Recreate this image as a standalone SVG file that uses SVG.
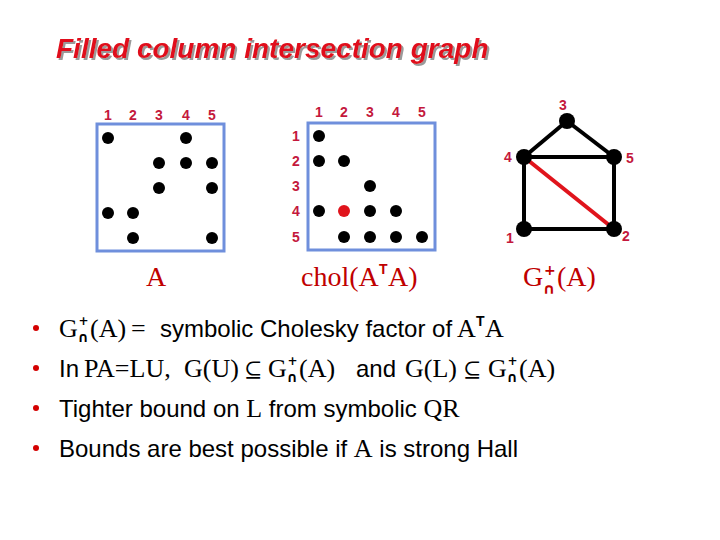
<svg xmlns="http://www.w3.org/2000/svg" width="720" height="540" viewBox="0 0 720 540">
<defs>
<filter id="shadow" x="-5%" y="-20%" width="110%" height="150%">
<feDropShadow dx="2" dy="2" stdDeviation="0.6" flood-color="#9a9a9a" flood-opacity="1"/>
</filter>
</defs>
<style>
.title{font-family:"Liberation Sans",Arial,sans-serif;font-weight:bold;font-style:italic;font-size:28px;fill:#e0101a}
.num{font-family:"Liberation Sans",Arial,sans-serif;font-weight:bold;font-size:14px;fill:#c4183c}
.box{fill:none;stroke:#6f8fdc;stroke-width:3}
.dot{fill:#000}
.lab{font-family:"Liberation Serif","Times New Roman",serif;font-size:28px;fill:#c00000}
.sup{font-family:"Liberation Sans",Arial,sans-serif;font-weight:bold;font-size:14px}
.pc{font-family:"DejaVu Sans","Liberation Sans",sans-serif;font-weight:bold}
.sans{font-family:"Liberation Sans",Arial,sans-serif;font-size:24px;fill:#000}
.ser{font-family:"Liberation Serif","Times New Roman",serif;font-size:26px;fill:#000}
.sym{font-family:"DejaVu Serif","Liberation Serif",serif;font-size:22px;fill:#000}
.edge{stroke:#000;stroke-width:4;fill:none}
.red{stroke:#e0141c;stroke-width:4;fill:none}
.bul{fill:#d40000}
</style>

<g id="title">
<text class="title" x="56" y="58" filter="url(#shadow)">Filled column intersection graph</text>
</g>

<g id="matrixA">
<rect class="box" x="97" y="124" width="127" height="127"/>
<g class="num" text-anchor="middle">
<text x="108" y="120">1</text><text x="133" y="120">2</text><text x="159" y="120">3</text><text x="186" y="120">4</text><text x="212" y="120">5</text>
</g>
<g class="dot">
<circle cx="108" cy="138" r="6"/><circle cx="186" cy="138" r="6"/>
<circle cx="159" cy="163" r="6"/><circle cx="186" cy="163" r="6"/><circle cx="212" cy="163" r="6"/>
<circle cx="159" cy="188" r="6"/><circle cx="212" cy="188" r="6"/>
<circle cx="108" cy="213" r="6"/><circle cx="133" cy="213" r="6"/>
<circle cx="133" cy="238" r="6"/><circle cx="212" cy="238" r="6"/>
</g>
<text class="lab" x="146" y="286">A</text>
</g>

<g id="matrixChol">
<rect class="box" x="308" y="123" width="127" height="127"/>
<g class="num" text-anchor="middle">
<text x="319" y="117">1</text><text x="344" y="117">2</text><text x="370" y="117">3</text><text x="396" y="117">4</text><text x="422" y="117">5</text>
<text x="296" y="141">1</text><text x="296" y="166">2</text><text x="296" y="191">3</text><text x="296" y="216">4</text><text x="296" y="242">5</text>
</g>
<g class="dot">
<circle cx="319" cy="136" r="6"/>
<circle cx="319" cy="161" r="6"/><circle cx="344" cy="161" r="6"/>
<circle cx="370" cy="186" r="6"/>
<circle cx="319" cy="211" r="6"/><circle cx="344" cy="211" r="6" fill="#e0141c"/><circle cx="370" cy="211" r="6"/><circle cx="396" cy="211" r="6"/>
<circle cx="344" cy="237" r="6"/><circle cx="370" cy="237" r="6"/><circle cx="396" cy="237" r="6"/><circle cx="422" cy="237" r="6"/>
</g>
<text class="lab" x="301" y="286">chol(A</text>
<text class="sup" x="379" y="274" fill="#c00000">T</text>
<text class="lab" x="388" y="286">A)</text>
</g>

<g id="connectors">
<line class="edge" x1="524" y1="157" x2="567" y2="121"/>
<line class="edge" x1="567" y1="121" x2="614" y2="157"/>
<line class="edge" x1="524" y1="157" x2="614" y2="157"/>
<line class="edge" x1="524" y1="157" x2="524" y2="229"/>
<line class="edge" x1="614" y1="157" x2="614" y2="229"/>
<line class="edge" x1="524" y1="229" x2="614" y2="229"/>
<line class="red" x1="524" y1="157" x2="614" y2="229"/>
</g>

<g id="node1"><circle cx="524" cy="229" r="8"/><text class="num" x="510" y="243" text-anchor="middle">1</text></g>
<g id="node2"><circle cx="614" cy="229" r="8"/><text class="num" x="626" y="241" text-anchor="middle">2</text></g>
<g id="node3"><circle cx="567" cy="121" r="8"/><text class="num" x="563" y="110" text-anchor="middle">3</text></g>
<g id="node4"><circle cx="524" cy="157" r="8"/><text class="num" x="508" y="162" text-anchor="middle">4</text></g>
<g id="node5"><circle cx="614" cy="157" r="8"/><text class="num" x="630" y="163" text-anchor="middle">5</text></g>

<g id="graphLabel">
<text class="lab" x="523" y="286">G</text>
<text class="pc" font-size="14" x="544" y="275" fill="#c00000">+</text>
<text class="pc" font-size="15" x="543" y="294" fill="#c00000">∩</text>
<text class="lab" x="557" y="286">(A)</text>
</g>

<g id="bullet1">
<circle class="bul" cx="36" cy="328" r="3"/>
<text class="ser" x="59" y="337">G</text>
<text class="pc" font-size="12" x="78.5" y="325">+</text>
<text class="pc" font-size="14" x="77.5" y="342">∩</text>
<text class="ser" x="90" y="337">(A)</text>
<text class="ser" x="131" y="337">=</text>
<text class="sans" x="160" y="337">symbolic Cholesky factor of</text>
<text class="ser" x="457" y="337">A</text>
<text class="sup" x="476" y="326">T</text>
<text class="ser" x="485" y="337">A</text>
</g>

<g id="bullet2">
<circle class="bul" cx="36" cy="368" r="3"/>
<text class="sans" x="59" y="377">In</text>
<text class="ser" x="84" y="377">PA=LU,</text>
<text class="ser" x="184" y="377">G(U)</text>
<text class="sym" x="244" y="377">⊆</text>
<text class="ser" x="268" y="377">G</text>
<text class="pc" font-size="12" x="287.5" y="365">+</text>
<text class="pc" font-size="14" x="286.5" y="382">∩</text>
<text class="ser" x="299" y="377">(A)</text>
<text class="sans" x="356" y="377">and</text>
<text class="ser" x="405" y="377">G(L)</text>
<text class="sym" x="463" y="377">⊆</text>
<text class="ser" x="488" y="377">G</text>
<text class="pc" font-size="12" x="507.5" y="365">+</text>
<text class="pc" font-size="14" x="506.5" y="382">∩</text>
<text class="ser" x="519" y="377">(A)</text>
</g>

<g id="bullet3">
<circle class="bul" cx="36" cy="408" r="3"/>
<text x="59" y="417"><tspan class="sans">Tighter bound on </tspan><tspan class="ser">L</tspan><tspan class="sans"> from symbolic </tspan><tspan class="ser">QR</tspan></text>
</g>

<g id="bullet4">
<circle class="bul" cx="36" cy="448" r="3"/>
<text x="59" y="457"><tspan class="sans">Bounds are best possible if </tspan><tspan class="ser">A</tspan><tspan class="sans"> is strong Hall</tspan></text>
</g>
</svg>
